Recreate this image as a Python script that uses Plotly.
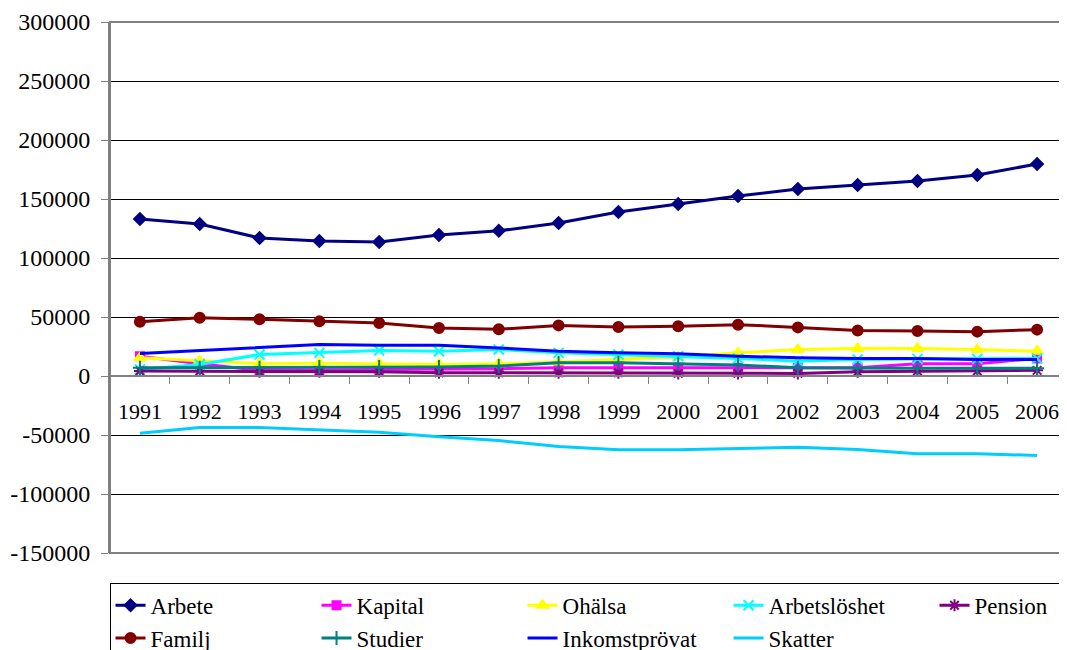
import plotly.graph_objects as go

years = [str(y) for y in range(1991, 2007)]

arbete = [133000, 128800, 117000, 114400, 113500, 119500, 123000, 129700, 139000, 145800, 152500, 158500, 161900, 165300, 170300, 179700]
kapital = [16800, 10400, 4800, 4800, 5600, 5600, 6200, 7000, 7000, 7000, 7000, 7000, 7000, 10400, 10400, 14900]
ohalsa = [15400, 12600, 10400, 10700, 10400, 9800, 10400, 11800, 14000, 16300, 19600, 22400, 23300, 23300, 22400, 21000]
arbetsloshet = [5600, 9800, 18200, 19600, 21600, 21000, 22400, 19600, 18200, 16800, 14900, 12600, 14000, 14500, 14500, 14900]
pension = [4200, 4200, 3600, 3600, 3600, 2800, 2800, 2800, 2800, 2200, 2200, 2200, 3600, 4200, 4200, 4800]
familj = [46000, 49400, 48000, 46300, 45000, 40700, 39600, 42900, 41600, 42100, 43500, 41200, 38500, 38200, 37600, 39300]
studier = [7000, 7000, 7000, 7600, 7600, 7600, 8400, 11200, 11200, 10400, 9300, 7000, 6500, 6500, 6500, 6500]
inkomstprovat = [19100, 21600, 23800, 26700, 26100, 26100, 23800, 21000, 19600, 18800, 16800, 15400, 14900, 14900, 14000, 14000]
skatter = [-48500, -43700, -43700, -45400, -47600, -51400, -54700, -59800, -62500, -62500, -61400, -60300, -62300, -65900, -65900, -67300]

y_ticks = [300000, 250000, 200000, 150000, 100000, 50000, 0, -50000, -100000, -150000]

series = [
    ("Arbete", arbete, "#000080", "diamond", 9),
    ("Kapital", kapital, "#FF00FF", "square", 8),
    ("Ohälsa", ohalsa, "#FFFF00", "triangle-up", 10),
    ("Arbetslöshet", arbetsloshet, "#00FFFF", "x-thin-open", 10),
    ("Pension", pension, "#800080", "asterisk-open", 10),
    ("Familj", familj, "#800000", "circle", 10),
    ("Studier", studier, "#008080", "cross-thin-open", 10),
    ("Inkomstprövat", inkomstprovat, "#0000FF", None, 0),
    ("Skatter", skatter, "#00CCFF", None, 0),
]

fig = go.Figure()
for name, vals, color, sym, size in series:
    if sym:
        fig.add_trace(go.Scatter(
            x=years, y=vals, name=name, mode="lines+markers",
            line=dict(color=color, width=3),
            marker=dict(symbol=sym, size=size, color=color,
                        line=dict(color=color, width=2)),
        ))
    else:
        fig.add_trace(go.Scatter(
            x=years, y=vals, name=name, mode="lines",
            line=dict(color=color, width=3),
        ))

font_family = "Liberation Serif, Times New Roman, serif"

fig.update_layout(
    width=1059, height=642,
    margin=dict(l=102, r=0, t=14, b=97, autoexpand=False),
    paper_bgcolor="white", plot_bgcolor="white",
    font=dict(family=font_family, size=22, color="black"),
    xaxis=dict(
        type="category",
        anchor="free", position=1/3,
        showline=True, linecolor="#808080", linewidth=2,
        ticks="outside", tickson="boundaries", ticklen=7, tickcolor="#808080", tickwidth=1,
        showgrid=False, zeroline=False,
        ticklabelstandoff=16,
        tickfont=dict(family=font_family, size=22, color="black"),
        range=[-0.5, 15.5],
    ),
    yaxis=dict(
        range=[-150000, 300000],
        tickvals=y_ticks, ticktext=[str(v) for v in y_ticks],
        showgrid=True, gridcolor="black", gridwidth=1,
        showline=True, linecolor="#808080", linewidth=2,
        ticks="outside", ticklen=7, tickcolor="#808080",
        zeroline=False,
        ticklabelstandoff=6,
        tickfont=dict(family=font_family, size=24, color="black"),
    ),
    legend=dict(
        orientation="h",
        x=-0.0005, xanchor="left",
        y=-0.056, yanchor="top",
        entrywidth=161,
        bordercolor="black", borderwidth=1,
        font=dict(family=font_family, size=23, color="black"),
        itemwidth=30,
        traceorder="normal",
    ),
    shapes=[
        dict(type="rect", xref="paper", yref="paper", x0=0, x1=1, y0=0, y1=1,
             line=dict(color="#808080", width=2), layer="above"),
    ],
    showlegend=True,
)

fig.write_html("out.html")
